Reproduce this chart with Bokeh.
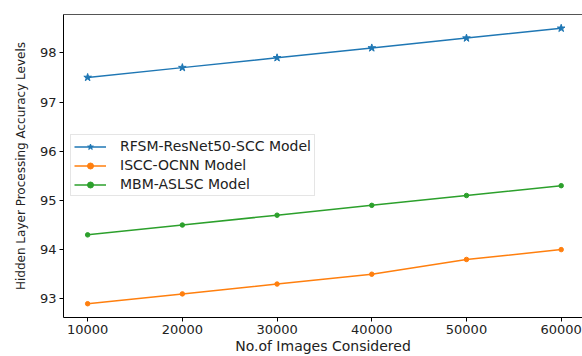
from bokeh.plotting import figure
from bokeh.models import Range1d, LinearAxis, Legend, LegendItem, FixedTicker
from bokeh.embed import file_html
from bokeh.resources import INLINE

images = [10000, 20000, 30000, 40000, 50000, 60000]
rfsm = [97.5, 97.7, 97.9, 98.1, 98.3, 98.5]
iscc = [92.9, 93.1, 93.3, 93.5, 93.8, 94.0]
mbm = [94.3, 94.5, 94.7, 94.9, 95.1, 95.3]
y_ticks = [93, 94, 95, 96, 97, 98]
labels = ["RFSM-ResNet50-SCC Model", "ISCC-OCNN Model", "MBM-ASLSC Model"]
colors = ["#1f77b4", "#ff7f0e", "#2ca02c"]

FONT = "DejaVu Sans"

p = figure(width=582, height=356, output_backend="svg", toolbar_location=None,
           x_range=Range1d(7450, 62250), y_range=Range1d(92.62, 98.78),
           min_border_left=63, min_border_right=0, min_border_top=14, min_border_bottom=36)
p.outline_line_color = None
p.grid.visible = False
p.background_fill_color = "white"

for ax in (p.xaxis[0], p.yaxis[0]):
    ax.axis_line_color = "black"
    ax.major_tick_line_color = "black"
    ax.major_tick_out = 4
    ax.major_tick_in = 0
    ax.minor_tick_line_color = None
    ax.major_label_text_font = FONT
    ax.major_label_text_font_size = "13px"
    ax.major_label_text_color = "#222222"
    ax.axis_label_text_font = FONT
    ax.axis_label_text_font_style = "normal"
    ax.axis_label_text_color = "#222222"

p.xaxis.axis_label_text_font_size = "14px"
p.yaxis.axis_label_text_font_size = "12px"
p.xaxis.ticker = FixedTicker(ticks=images)
p.yaxis.ticker = FixedTicker(ticks=y_ticks)
p.xaxis.axis_label = "No.of Images Considered"
p.yaxis.axis_label = "Hidden Layer Processing Accuracy Levels"
p.xaxis.axis_label_standoff = 1
p.yaxis.axis_label_standoff = 9
p.xaxis.major_label_standoff = 3
p.yaxis.major_label_standoff = 3

top = LinearAxis(ticker=FixedTicker(ticks=[]), major_label_text_font_size="0px",
                 axis_line_color="#555555", major_tick_line_color=None, minor_tick_line_color=None)
p.add_layout(top, "above")

r1 = p.line(images, rfsm, color=colors[0], line_width=1.5)
m1 = p.scatter(images, rfsm, marker="star", size=8, color=colors[0])
r2 = p.line(images, iscc, color=colors[1], line_width=1.5)
m2 = p.scatter(images, iscc, marker="circle", size=4.5, color=colors[1])
r3 = p.line(images, mbm, color=colors[2], line_width=1.5)
m3 = p.scatter(images, mbm, marker="circle", size=4.5, color=colors[2])

legend = Legend(items=[LegendItem(label=labels[0], renderers=[r1, m1]),
                       LegendItem(label=labels[1], renderers=[r2, m2]),
                       LegendItem(label=labels[2], renderers=[r3, m3])],
                location=(7, 121))
legend.label_text_font = FONT
legend.label_text_font_size = "14px"
legend.label_text_color = "#222222"
legend.border_line_color = "#cccccc"
legend.background_fill_alpha = 0.8
legend.glyph_width = 32
legend.glyph_height = 15
legend.label_height = 15
legend.spacing = 3
legend.padding = 3
legend.margin = 0
legend.label_standoff = 14
p.add_layout(legend, "center")

open("out.html", "w").write(file_html(p, INLINE))
